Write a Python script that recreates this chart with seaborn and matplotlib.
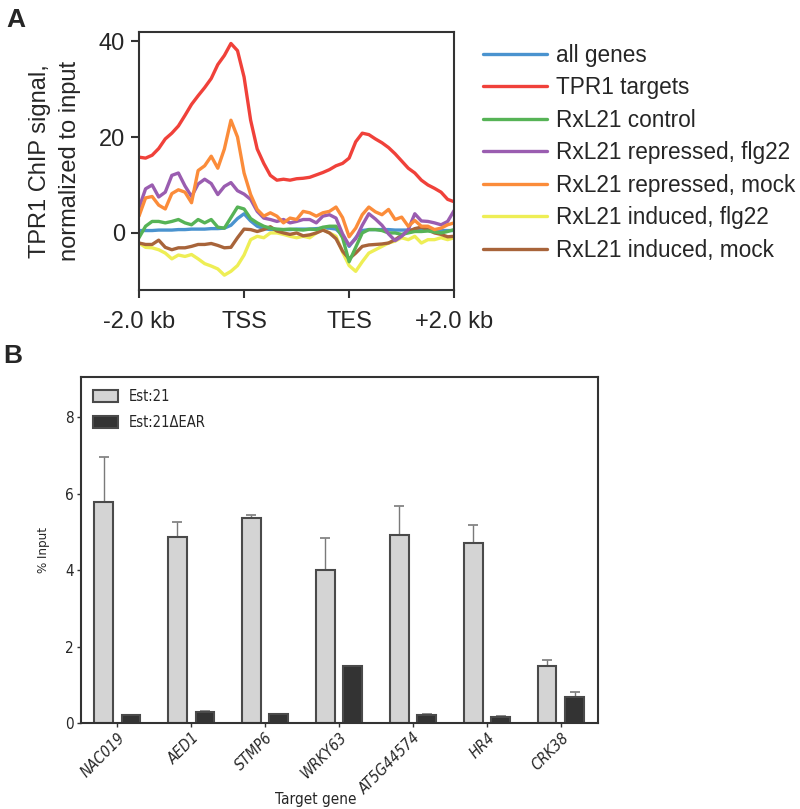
import numpy as np
import pandas as pd
import matplotlib
matplotlib.use("Agg")
import matplotlib.pyplot as plt
import seaborn as sns

# ---- Panel A: metagene profiles (bins from -2 kb .. TSS .. TES .. +2 kb) ----
n_bins = 49
bin_pos = np.arange(n_bins) / 16.0

all_genes = [0.5, 0.5, 0.5, 0.6, 0.6, 0.6, 0.7, 0.7, 0.8, 0.8, 0.8, 0.9, 0.9, 1.0, 1.6, 3.0,
             4.0, 2.5, 1.4, 0.9, 0.7, 0.7, 0.7, 0.7, 0.8, 0.8, 0.8, 0.9, 1.0, 1.0, 0.8, -0.5,
             -2.8, -1.0, 0.5, 0.7, 0.7, 0.7, 0.7, 0.6, 0.6, 0.6, 0.6, 0.6, 0.6, 0.6, 0.5, 0.5, 0.5]
tpr1_targets = [15.8, 15.6, 16.2, 17.6, 19.6, 20.8, 22.3, 24.5, 26.8, 28.6, 30.3, 32.2, 35.1, 37.0,
                39.5, 38.0, 32.5, 23.5, 17.5, 14.5, 12.0, 11.0, 11.2, 11.0, 11.3, 11.4, 11.6, 12.1,
                12.6, 13.2, 14.0, 14.5, 15.6, 19.0, 20.8, 20.5, 19.6, 18.8, 17.8, 16.5, 15.0, 13.5,
                12.5, 11.0, 10.0, 9.3, 8.5, 7.0, 6.5]
rxl21_control = [-1.0, 1.4, 2.4, 2.4, 2.1, 2.4, 2.8, 2.1, 1.7, 2.8, 2.1, 2.8, 1.2, 1.0, 3.2, 5.4,
                 5.0, 3.0, 2.1, 1.4, 1.0, 0.8, 0.7, 0.8, 0.7, 0.6, 0.8, 0.7, 1.2, 1.4, 1.4, -1.0,
                 -6.0, -3.0, 0.0, 0.7, 0.7, 0.5, 0.0, 0.0, -0.3, 0.0, 0.3, 0.3, 0.4, 0.2, 0.0, 0.3, 0.7]
rep_flg22 = [5.2, 9.2, 10.0, 7.5, 8.5, 12.0, 12.5, 9.8, 7.6, 10.2, 11.2, 10.3, 8.0, 9.7, 10.5, 8.8,
             8.1, 7.0, 4.5, 3.1, 2.8, 2.4, 2.8, 2.1, 2.4, 2.8, 2.8, 2.1, 3.5, 3.8, 3.1, -0.2,
             -2.6, -1.2, 1.6, 4.0, 2.9, 1.6, -0.2, -1.6, -0.7, 0.7, 4.0, 2.5, 2.4, 2.1, 1.7, 2.4, 4.7]
rep_mock = [3.5, 7.3, 7.6, 5.8, 5.0, 8.2, 9.0, 8.5, 6.3, 13.0, 14.0, 16.0, 13.5, 17.5, 23.5, 20.0,
            12.5, 8.0, 4.9, 3.5, 4.2, 3.5, 2.1, 3.1, 2.8, 4.5, 4.2, 3.5, 4.2, 4.5, 5.4, 3.2,
            -0.8, 1.0, 3.8, 5.4, 4.4, 3.8, 4.9, 2.8, 3.3, 1.4, 2.6, 1.4, 1.4, 0.7, 1.0, 1.7, 2.1]
ind_flg22 = [-2.1, -3.0, -3.1, -3.5, -4.2, -5.4, -4.6, -4.9, -4.5, -5.4, -6.4, -6.9, -7.5, -8.8,
             -8.0, -6.8, -4.6, -1.4, -0.7, -1.0, 0.0, 0.0, -0.3, -0.7, -1.0, -0.7, -1.0, 0.0, 0.7,
             0.0, -0.7, -4.0, -6.8, -8.0, -6.0, -4.2, -3.5, -2.8, -2.1, -1.7, -1.0, -1.4, -0.7,
             -2.1, -1.4, -1.4, -1.0, -1.4, -1.0]
ind_mock = [-2.1, -2.4, -2.4, -1.5, -3.0, -3.5, -3.1, -3.1, -2.8, -2.4, -2.4, -2.2, -2.6, -3.1,
            -3.0, -1.0, 0.8, 0.7, 0.3, 0.7, 1.3, 0.4, 0.0, -0.3, 0.0, -0.6, -0.4, 0.0, 0.6, 0.0,
            -1.2, -3.8, -5.4, -4.2, -2.8, -2.5, -2.4, -2.3, -2.1, -1.4, -0.5, 0.3, 0.9, 1.2, 0.7,
            0.0, -0.3, -0.8, -0.7]

profile_labels = ["all genes", "TPR1 targets", "RxL21 control", "RxL21 repressed, flg22",
                  "RxL21 repressed, mock", "RxL21 induced, flg22", "RxL21 induced, mock"]
profile_colors = ["#4a93cf", "#f0413a", "#56b356", "#9a5db0", "#fb8c3a", "#eeee55", "#a8643a"]
region_ticks = ["-2.0 kb", "TSS", "TES", "+2.0 kb"]

# ---- Panel B: ChIP-qPCR ----
genes = ["NAC019", "AED1", "STMP6", "WRKY63", "AT5G44574", "HR4", "CRK38"]
lines_b = ["Est:21", "Est:21\u0394EAR"]
est21_mean = [5.78, 4.87, 5.35, 4.00, 4.93, 4.72, 1.50]
est21_err = [1.19, 0.38, 0.10, 0.85, 0.74, 0.45, 0.14]
ear_mean = [0.21, 0.30, 0.23, 1.50, 0.20, 0.165, 0.69]
ear_err = [0.01, 0.02, 0.01, 0.0, 0.03, 0.01, 0.12]

sns.set_style("white")
plt.rcParams["font.family"] = ["Liberation Sans", "DejaVu Sans"]
spine_col = "#333333"
# narrow-looking text for panel B
nfont = {"family": "DejaVu Sans", "stretch": "condensed"}

fig = plt.figure(figsize=(8.0, 8.09), dpi=100)

# ================= Panel A =================
axA = fig.add_axes([0.17375, 0.6415, 0.394, 0.319])
series = [all_genes, tpr1_targets, rxl21_control, rep_flg22, rep_mock, ind_flg22, ind_mock]
dfA = pd.concat([pd.DataFrame({"pos": bin_pos, "signal": vals, "group": lab})
                 for lab, vals in zip(profile_labels, series)], ignore_index=True)
draw_order = ["all genes", "RxL21 induced, flg22", "RxL21 induced, mock", "RxL21 control",
              "RxL21 repressed, flg22", "RxL21 repressed, mock", "TPR1 targets"]
pal = dict(zip(profile_labels, profile_colors))
for lab in draw_order:
    sub = dfA[dfA["group"] == lab]
    sns.lineplot(data=sub, x="pos", y="signal", color=pal[lab], lw=2.4, ax=axA,
                 label=lab, legend=False)

axA.set_xlim(0, 3)
axA.set_ylim(-11.9, 41.9)
axA.set_xticks([0, 1, 2, 3])
axA.set_xticklabels(region_ticks, fontsize=17)
axA.set_yticks([0, 20, 40])
axA.set_yticklabels(["0", "20", "40"], fontsize=17)
axA.set_xlabel("")
axA.set_ylabel("TPR1 ChIP signal,\nnormalized to input", fontsize=17, linespacing=1.45)
axA.yaxis.set_label_coords(-0.185, 0.5)
axA.tick_params(direction="out", length=6, width=1.5, color=spine_col, pad=4,
                bottom=True, left=True)
axA.tick_params(axis="x", pad=9)
for sp in axA.spines.values():
    sp.set_color(spine_col)
    sp.set_linewidth(1.5)

handles = {h.get_label(): h for h in axA.get_lines()}
fig.legend([handles[l] for l in profile_labels], profile_labels, loc="upper left",
           bbox_to_anchor=(0.59, 0.96), frameon=False, fontsize=16.3,
           handlelength=2.8, handletextpad=0.4, labelspacing=0.42, borderpad=0)

fig.text(0.008, 0.99, "A", fontsize=19, fontweight="bold", va="top", ha="left")

# ================= Panel B =================
axB = fig.add_axes([0.10125, 0.1063, 0.646, 0.4277])
dfB = pd.DataFrame({
    "gene": genes * 2,
    "value": est21_mean + ear_mean,
    "err": est21_err + ear_err,
    "line": [lines_b[0]] * len(genes) + [lines_b[1]] * len(genes),
})
sns.barplot(data=dfB, x="gene", y="value", hue="line", hue_order=lines_b,
            palette=["#d4d4d4", "#333333"], width=0.74, gap=0.32, errorbar=None,
            edgecolor="#4a4a4a", linewidth=1.5, ax=axB, zorder=2)

for container, line_name in zip(axB.containers, lines_b):
    sub = dfB[dfB["line"] == line_name]
    xs = [b.get_x() + b.get_width() / 2 for b in container]
    axB.errorbar(xs, sub["value"], yerr=[np.zeros(len(sub)), sub["err"]], fmt="none",
                 ecolor="#7a7a7a", elinewidth=1.0, capsize=3.5, capthick=1.2, zorder=1)

axB.set_xlim(-0.49, 6.5)
axB.set_ylim(0, 9.05)
axB.set_yticks([0, 2, 4, 6, 8])
axB.set_yticklabels(["0", "2", "4", "6", "8"], fontsize=11, **nfont)
axB.set_xticks(range(len(genes)))
axB.set_xticklabels(genes, rotation=45, ha="right", rotation_mode="anchor",
                    fontsize=11, style="italic", **nfont)
axB.set_xlabel("Target gene", fontsize=11, **nfont)
axB.xaxis.set_label_coords(0.455, -0.2)
axB.set_ylabel("% Input", fontsize=9.5, **nfont)
axB.yaxis.set_label_coords(-0.06, 0.5)
axB.tick_params(direction="out", length=3, width=1.0, color=spine_col, pad=2,
                bottom=True, left=True)
for sp in axB.spines.values():
    sp.set_color(spine_col)
    sp.set_linewidth(1.5)

axB.legend(loc="upper left", bbox_to_anchor=(0.0, 1.0), frameon=False,
           prop={"family": "DejaVu Sans", "stretch": "condensed", "size": 10.5},
           handlelength=1.7, handleheight=0.9, handletextpad=0.7, labelspacing=0.75,
           borderaxespad=0.45)

fig.text(0.004, 0.575, "B", fontsize=19, fontweight="bold", va="top", ha="left")

fig.savefig("out.png", dpi=100)
